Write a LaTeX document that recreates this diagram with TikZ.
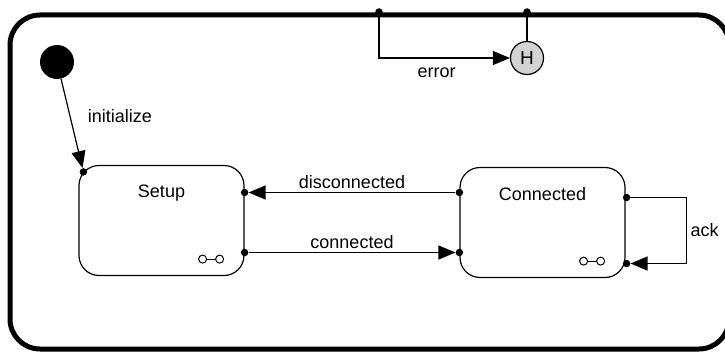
\documentclass[tikz,border=0pt]{standalone}
\usepackage{fontspec}
\setmainfont{Liberation Sans}
\usepackage{tikz}
\usetikzlibrary{arrows.meta,positioning,calc}
\definecolor{histgray}{HTML}{D3D3D3}
\tikzset{
  frame/.style={draw,rounded corners=30pt,line width=5pt},
  state/.style={draw,rounded corners=20pt,line width=1.2pt,minimum width=165pt,
    minimum height=110pt,inner sep=0pt},
  lbl/.style={font=\fontsize{18pt}{20pt}\selectfont},
  trans/.style={-{Triangle[length=17pt,width=14pt]},line width=1.2pt},
  pin/.style={circle,fill,inner sep=0pt,minimum size=7.5pt},
  initial/.style={circle,fill,inner sep=0pt,minimum size=34pt},
  hist/.style={circle,draw,fill=histgray,line width=1.2pt,inner sep=0pt,minimum size=33pt}
}
\newcommand{\compsym}[1]{%
  \draw[line width=1pt] ($(#1.south east)+(-42,-17)$) -- ($(#1.south east)+(-25,-17)$);
  \draw[line width=1pt,fill=white] ($(#1.south east)+(-42,-17)$) circle (4pt)
    ($(#1.south east)+(-25,-17)$) circle (4pt);}

\begin{document}
\begin{tikzpicture}[x=1pt,y=-1pt]
\useasboundingbox (0,0) rectangle (725,353);
\draw[frame] (10,15) rectangle (729,349);

\node[initial] (init) at (57,62) {};
\node[state] (setup) at (161.5,220.5) {};
\node[state] (conn) at (542.5,222.5) {};
\node[lbl] (setuptxt) at ($(setup.north)+(0,28)$) {Setup};
\node[lbl] (conntxt) at ($(conn.north)+(0,27)$) {Connected};
\compsym{setup}
\compsym{conn}

\node[pin] (pinit) at ($(setup.north west)+(5,7)$) {};
\node[pin] (sdis) at ($(setup.east)+(0,-28)$) {};
\node[pin] (scon) at ($(setup.east)+(0,32)$) {};
\node[pin] (cdis) at ($(conn.west)+(0,-30)$) {};
\node[pin] (ccon) at ($(conn.west)+(0,30)$) {};
\node[pin] (ackout) at ($(conn.east)+(1,-25)$) {};
\node[pin] (ackin) at ($(conn.east)+(1,41)$) {};
\node[pin] (errout) at (379,12) {};
\node[pin] (histin) at (527,12) {};
\node[hist] (hist) at (527,58) {\fontsize{19pt}{20pt}\selectfont H};

\draw[trans] (init) -- node[lbl,right=14pt,pos=0.42] {initialize} (pinit);
\draw[trans] (cdis) -- node[lbl,above] {disconnected} (sdis);
\draw[trans] (scon) -- node[lbl,above] {connected} (ccon);
\draw[trans] (ackout.center) -- ++(60,0) |- node[lbl,right,pos=0.25] {ack} (ackin);
\draw[trans] (errout.center) |- node[lbl,below=6pt,pos=0.72] {error} (hist);
\draw[line width=1.2pt] (histin.center) -- (hist);
\end{tikzpicture}
\end{document}
